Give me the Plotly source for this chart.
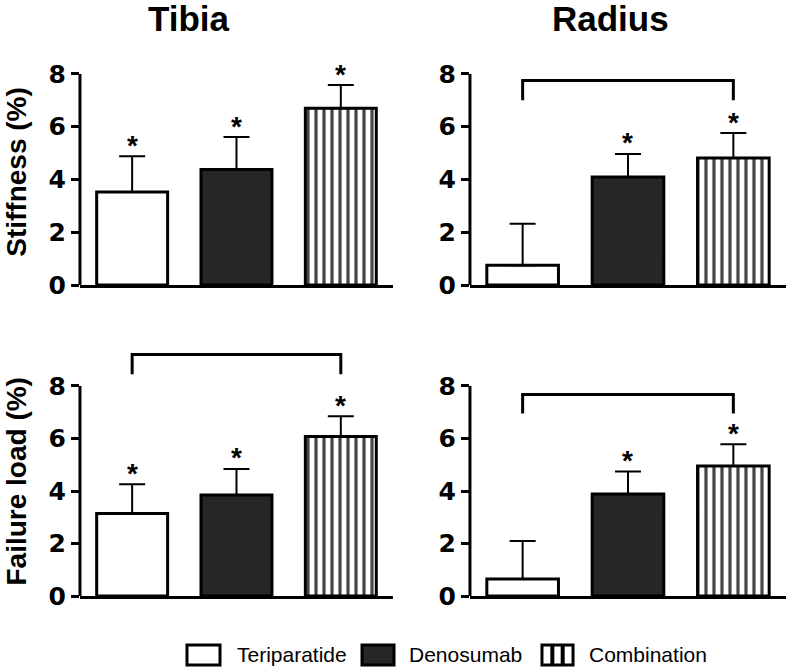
import plotly.graph_objects as go

# ---------------- data ----------------
treatments = ["Teriparatide", "Denosumab", "Combination"]
site_titles = ["Tibia", "Radius"]
measure_titles = ["Stiffness (%)", "Failure load (%)"]

tibia_stiffness_mean = [3.53, 4.38, 6.70]
tibia_stiffness_err = [1.35, 1.23, 0.88]
tibia_stiffness_star = ["*", "*", "*"]

radius_stiffness_mean = [0.75, 4.09, 4.81]
radius_stiffness_err = [1.57, 0.88, 0.95]
radius_stiffness_star = ["", "*", "*"]

tibia_failure_mean = [3.14, 3.85, 6.08]
tibia_failure_err = [1.12, 0.99, 0.77]
tibia_failure_star = ["*", "*", "*"]

radius_failure_mean = [0.65, 3.89, 4.95]
radius_failure_err = [1.45, 0.85, 0.83]
radius_failure_star = ["", "*", "*"]

# significance brackets (Teriparatide vs Combination): [leg bottom, top]
radius_stiffness_bracket = [7.0, 7.75]
tibia_failure_bracket = [8.45, 9.2]
radius_failure_bracket = [6.95, 7.68]

y_ticks = [0, 2, 4, 6, 8]

# ---------------- style ----------------
bar_colors = ["white", "#262626", "white"]
bar_patterns = ["", "", "|"]
FONT = "Liberation Sans, Arial, Helvetica, sans-serif"
TICKFONT = "DejaVu Sans, Liberation Sans, Arial, sans-serif"

panels = [
    (1, tibia_stiffness_mean, tibia_stiffness_err, tibia_stiffness_star, None),
    (2, radius_stiffness_mean, radius_stiffness_err, radius_stiffness_star, radius_stiffness_bracket),
    (3, tibia_failure_mean, tibia_failure_err, tibia_failure_star, tibia_failure_bracket),
    (4, radius_failure_mean, radius_failure_err, radius_failure_star, radius_failure_bracket),
]

fig = go.Figure()
shapes = []
annotations = []

for idx, mean, err, star, bracket in panels:
    xa = "x" if idx == 1 else f"x{idx}"
    ya = "y" if idx == 1 else f"y{idx}"
    fig.add_trace(go.Bar(
        x=treatments, y=mean, xaxis=xa, yaxis=ya, width=0.68,
        marker=dict(color=bar_colors, line=dict(color="black", width=3),
                    pattern=dict(shape=bar_patterns, fgcolor="black", bgcolor="white",
                                 fillmode="overlay", fgopacity=1, size=8, solidity=0.4)),
        error_y=dict(type="data", symmetric=False, array=err,
                     arrayminus=[0] * len(err), color="black", thickness=2, width=13),
        showlegend=False, hoverinfo="skip",
    ))
    # significance stars above the error bars
    for cat, m, e, s in zip(treatments, mean, err, star):
        if s:
            annotations.append(dict(text=s, x=cat, y=m + e, xref=xa, yref=ya,
                                    showarrow=False, xanchor="center", yanchor="middle",
                                    yshift=11,
                                    font=dict(family=FONT, size=28, color="black",
                                              weight="bold")))
    if bracket is not None:
        lo, hi = bracket
        fig.add_trace(go.Scatter(
            x=[treatments[0], treatments[0], treatments[2], treatments[2]],
            y=[lo, hi, hi, lo], xaxis=xa, yaxis=ya, mode="lines",
            line=dict(color="black", width=3), showlegend=False, hoverinfo="skip",
        ))
    # y axis line only from 0 to 8
    shapes.append(dict(type="line", xref=f"{xa} domain", yref=ya, x0=0, x1=0,
                       y0=y_ticks[0], y1=y_ticks[-1], line=dict(color="black", width=3)))

left_dom = [0.1015, 0.4987]
right_dom = [0.5964, 0.9975]
top_dom = [0.5746, 0.9487]
bot_dom = [0.1104, 0.4827]

xcommon = dict(showline=True, linewidth=3, linecolor="black", showticklabels=False,
               ticks="", showgrid=False, zeroline=False, range=[-0.5, 2.5],
               fixedrange=True, automargin=False)
ycommon = dict(showline=False, showgrid=False, zeroline=False, range=[0, 9.5],
               tickvals=y_ticks, ticks="outside", ticklen=8, tickwidth=3, tickcolor="black",
               tickfont=dict(family=TICKFONT, size=25, color="black", weight="bold"),
               ticklabelstandoff=0, automargin=False, fixedrange=True)

fig.update_layout(
    width=788, height=670, margin=dict(l=0, r=0, t=0, b=0, pad=0, autoexpand=False),
    paper_bgcolor="white", plot_bgcolor="white", bargap=0.3,
    xaxis=dict(domain=left_dom, anchor="y", **xcommon),
    yaxis=dict(domain=top_dom, anchor="x", **ycommon),
    xaxis2=dict(domain=right_dom, anchor="y2", **xcommon),
    yaxis2=dict(domain=top_dom, anchor="x2", **ycommon),
    xaxis3=dict(domain=left_dom, anchor="y3", **xcommon),
    yaxis3=dict(domain=bot_dom, anchor="x3", **ycommon),
    xaxis4=dict(domain=right_dom, anchor="y4", **xcommon),
    yaxis4=dict(domain=bot_dom, anchor="x4", **ycommon),
)

# column titles
for txt, xp in zip(site_titles, [0.24, 0.775]):
    annotations.append(dict(text=txt, x=xp, y=0.972, xref="paper", yref="paper",
                            showarrow=False, xanchor="center", yanchor="middle",
                            font=dict(family=FONT, size=35, color="black", weight="bold")))
# row titles
for txt, yp in zip(measure_titles, [0.743, 0.2806]):
    annotations.append(dict(text=txt, x=0.021, y=yp, xref="paper", yref="paper",
                            showarrow=False, xanchor="center", yanchor="middle", textangle=-90,
                            font=dict(family=FONT, size=28, color="black", weight="bold")))

# manual legend
legend_boxes = [(0.2373, 0.2792), (0.4594, 0.5), (0.6878, 0.7272)]
legend_text_x = [0.2982, 0.5165, 0.7449]
ly0, ly1, lyc = 0.0075, 0.0373, 0.0224
for name, (bx0, bx1), tx, col, pat in zip(treatments, legend_boxes, legend_text_x,
                                          bar_colors, bar_patterns):
    shapes.append(dict(type="rect", xref="paper", yref="paper", x0=bx0, x1=bx1, y0=ly0, y1=ly1,
                       fillcolor=col, line=dict(color="black", width=3)))
    if pat == "|":
        for f in (1 / 3, 2 / 3):
            xx = bx0 + (bx1 - bx0) * f
            shapes.append(dict(type="line", xref="paper", yref="paper", x0=xx, x1=xx,
                               y0=ly0, y1=ly1, line=dict(color="black", width=4)))
    annotations.append(dict(text=name, x=tx, y=lyc, xref="paper", yref="paper",
                            showarrow=False, xanchor="left", yanchor="middle",
                            font=dict(family=FONT, size=21, color="black")))

fig.update_layout(shapes=shapes, annotations=annotations)
fig.write_html("out.html", config={"displayModeBar": False},
               post_script="document.body.style.margin='0';")
